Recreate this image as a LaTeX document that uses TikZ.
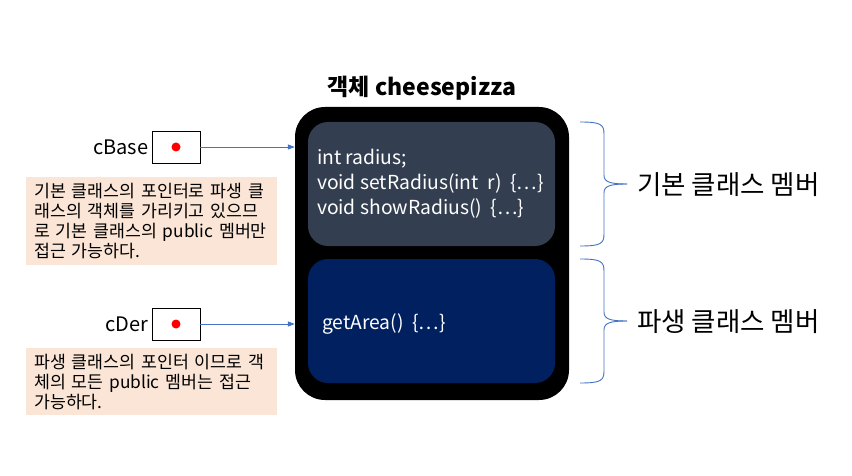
\documentclass[tikz,border=0pt]{standalone}
\usepackage{fontspec}
\setmainfont{Noto Sans CJK KR}
\usetikzlibrary{positioning,arrows.meta}
\definecolor{basegray}{HTML}{333F50}
\definecolor{dernavy}{HTML}{002060}
\definecolor{notepeach}{HTML}{FBE5D6}
\definecolor{linkblue}{HTML}{4472C4}

\begin{document}
\begin{tikzpicture}[x=1pt,y=-1pt]
        \tikzset{outerbox/.style={fill=black,rounded corners=30pt,minimum width=274pt,minimum height=293pt,inner sep=0pt}}
        \tikzset{memberbox/.style={rounded corners=20pt,minimum width=247pt,minimum height=124pt,inner sep=0pt}}
        \tikzset{codetext/.style={text=white,font=\fontsize{19.3}{25}\selectfont,align=left,inner sep=0pt}}
        \tikzset{ptrbox/.style={draw=black,fill=white,line width=0.8pt,minimum width=48pt,minimum height=32pt,inner sep=0pt}}
        \tikzset{ptrdot/.style={circle,fill=red,minimum size=9pt,inner sep=0pt}}
        \tikzset{ptrname/.style={font=\fontsize{20}{22}\selectfont,inner sep=1pt}}
        \tikzset{note/.style={fill=notepeach,text width=235pt,inner xsep=8pt,align=left,font=\fontsize{17.3}{20}\selectfont}}
        \tikzset{ptrarrow/.style={draw=linkblue,line width=0.8pt,-{Triangle[length=7pt,width=5pt]}}}
        \tikzset{brace/.style={draw=linkblue,line width=0.9pt}}
        \tikzset{member/.style={font=\fontsize{26.5}{28}\selectfont,inner sep=0pt}}
        \useasboundingbox (0,0) rectangle (852,476);
        % object and its parts
        \node[outerbox] (obj) at (432,253.5) {};
        \node[memberbox,fill=basegray] (base) at (431.5,184) {};
        \node[memberbox,fill=dernavy] (der) at (431.5,321) {};
        \node[font=\bfseries\fontsize{23}{24}\selectfont] (ttl) at (422,88) {객체 cheesepizza};
        \node[codetext,anchor=west] (basecode) at ([xshift=9pt]base.west) {int radius;\\void setRadius(int\ \ r) \ \{…\}\\void showRadius() \ \{…\}};
        \node[codetext,anchor=west] (dercode) at ([xshift=14pt,yshift=-3pt]der.west) {getArea() \ \{…\}};
        % pointers
        \node[ptrbox] (pbase) at (176,147) {};
        \node[ptrdot] (dbase) at (pbase) {};
        \node[ptrname,left=2pt of pbase] (nbase) {cBase};
        \node[ptrbox] (pder) at (176,324) {};
        \node[ptrdot] (dder) at (pder) {};
        \node[ptrname,left=2pt of pder] (nder) {cDer};
        \draw[ptrarrow] (pbase.east) -- (obj.west |- pbase.east);
        \draw[ptrarrow] (pder.east) -- (obj.west |- pder.east);
        % notes
        \node[note,anchor=north west,minimum height=88pt] (basenote) at (26,177) {기본 클래스의 포인터로 파생 클\\래스의 객체를 가리키고 있으므\\로 기본 클래스의 public 멤버만\\접근 가능하다.};
        \node[note,anchor=north west,minimum height=67pt] (dernote) at (26,348) {파생 클래스의 포인터 이므로 객\\체의 모든 public 멤버는 접근\\가능하다.};
        % braces
        \draw[brace] (580,122) .. controls (600,122) and (604,124) .. (604,134) -- (604,175) .. controls (604,182) and (610,184) .. (627,184);
        \draw[brace] (580,246) .. controls (600,246) and (604,244) .. (604,234) -- (604,193) .. controls (604,186) and (610,184) .. (627,184);
        \draw[brace] (580,259) .. controls (600,259) and (604,261) .. (604,271) -- (604,312) .. controls (604,319) and (610,321) .. (627,321);
        \draw[brace] (580,383) .. controls (600,383) and (604,381) .. (604,371) -- (604,330) .. controls (604,323) and (610,321) .. (627,321);
        \node[member,anchor=west] (lbase) at (637,185) {기본 클래스 멤버};
        \node[member,anchor=west] (lder) at (637,322) {파생 클래스 멤버};
\end{tikzpicture}
\end{document}
